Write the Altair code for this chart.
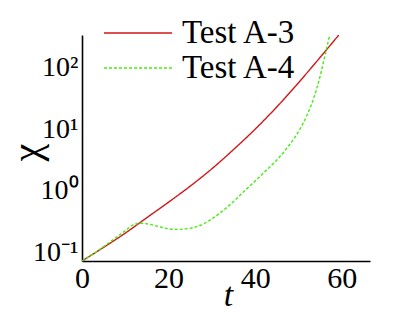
import altair as alt
import pandas as pd

# Test A-3 (red, solid)
t_a3 = [0, 5, 10, 15, 20, 25, 30, 35, 40, 45, 50, 55, 59.3]
chi_a3 = [0.0741, 0.123, 0.209, 0.372, 0.661, 1.20, 2.29, 4.68, 10.0, 22.9, 56.2, 144.5, 331]

# Test A-4 (green, dashed)
t_a4 = [0, 2.5, 5, 7.5, 10, 12, 13.5, 15, 17.5, 20, 22, 25, 27.5, 30, 32.5, 35,
        37.5, 40, 42.5, 45, 47.5, 50, 52, 53.5, 55, 56, 57.2]
chi_a4 = [0.0741, 0.0955, 0.126, 0.170, 0.229, 0.288, 0.302, 0.295, 0.269, 0.245,
          0.240, 0.251, 0.282, 0.355, 0.479, 0.676, 1.0, 1.45, 2.14, 3.16, 5.13,
          9.12, 17.0, 31.6, 72.4, 144.5, 331]

series_names = ["Test A-3", "Test A-4"]
series_colors = ["#d01818", "#44ee11"]

x_ticks = [0, 20, 40, 60]
y_ticks = [0.1, 1, 10, 100]

df = pd.concat([
    pd.DataFrame({"t": t_a3, "chi": chi_a3, "series": series_names[0]}),
    pd.DataFrame({"t": t_a4, "chi": chi_a4, "series": series_names[1]}),
])

FONT = "Liberation Serif"

chart = alt.Chart(df).mark_line(interpolate="monotone", strokeWidth=1.4, clip=True).encode(
    x=alt.X("t:Q",
            scale=alt.Scale(domain=[0, 66.5], nice=False, zero=False),
            axis=alt.Axis(values=x_ticks, title="t", titleFontStyle="italic",
                          titleFontWeight="normal", titleFontSize=34,
                          titleX=146, titleY=44, titleBaseline="alphabetic",
                          labelFontSize=30, labelPadding=2, labelFlush=False,
                          labelFont=FONT, titleFont=FONT, grid=False, ticks=False)),
    y=alt.Y("chi:Q",
            scale=alt.Scale(type="log", domain=[0.074, 331], nice=False),
            axis=alt.Axis(values=y_ticks, title="χ", titleFontSize=40,
                          titleFontWeight="normal", titleAngle=-90,
                          titleX=-55, titleY=117, titleBaseline="middle",
                          titleAlign="center",
                          labelFontSize=28, labelPadding=4,
                          labelFont=FONT, titleFont=FONT, grid=False, ticks=False,
                          labelExpr="datum.value >= 99 ? '10²' : datum.value >= 9 ? '10¹' : datum.value >= 0.9 ? '10⁰' : '10⁻¹'")),
    color=alt.Color("series:N",
                    scale=alt.Scale(domain=series_names, range=series_colors),
                    legend=alt.Legend(title=None, orient="none", legendX=38, legendY=-20,
                                      padding=0, symbolType="M-2,0H2", symbolSize=1156,
                                      symbolStrokeWidth=1.4, symbolFillColor="transparent",
                                      labelFontSize=33,
                                      labelFont=FONT, labelOffset=26, labelColor="black",
                                      rowPadding=0)),
    strokeDash=alt.StrokeDash("series:N",
                              scale=alt.Scale(domain=series_names, range=[[1, 0], [3, 2]]),
                              legend=None),
).properties(
    width=288, height=226,
    autosize=alt.AutoSizeParams(type="none"),
    padding={"left": 74, "top": 27, "right": 30, "bottom": 48},
).configure(
    font=FONT, background="white"
).configure_view(stroke=None).configure_axis(
    labelFont=FONT, titleFont=FONT, labelColor="black", titleColor="black",
    domainColor="black", domainWidth=1.6, ticks=False, grid=False,
).configure_text(font=FONT)

chart.save("out.html", embed_options={"renderer": "svg", "actions": False})
